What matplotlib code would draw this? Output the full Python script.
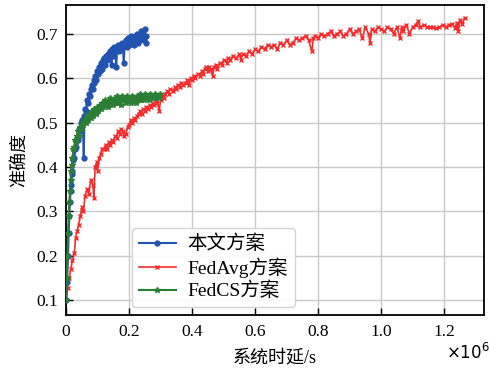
import numpy as np
import matplotlib.pyplot as plt
from matplotlib.ticker import FuncFormatter

plt.rcParams['font.family'] = ['Liberation Serif', 'Noto Sans CJK SC']
plt.rcParams['axes.unicode_minus'] = False

# system latency in units of 1e6 s, accuracy
ours_x = [0.000, 0.003, 0.006, 0.008, 0.010, 0.012, 0.014, 0.016, 0.018, 0.020,
          0.023, 0.026, 0.029, 0.032, 0.035, 0.038, 0.041, 0.044, 0.047, 0.050,
          0.053, 0.056, 0.058, 0.060, 0.063, 0.066, 0.069, 0.072, 0.075, 0.078,
          0.081, 0.084, 0.087, 0.090, 0.093, 0.096, 0.099, 0.102, 0.105, 0.108,
          0.111, 0.114, 0.117, 0.120, 0.123, 0.126, 0.129, 0.132, 0.135, 0.138,
          0.141, 0.144, 0.147, 0.150, 0.153, 0.156, 0.159, 0.162, 0.165, 0.168,
          0.171, 0.174, 0.177, 0.180, 0.183, 0.186, 0.189, 0.192, 0.195, 0.198,
          0.201, 0.204, 0.207, 0.210, 0.213, 0.216, 0.219, 0.222, 0.225, 0.228,
          0.231, 0.234, 0.237, 0.240, 0.243, 0.246, 0.249, 0.252, 0.255]
ours_y = [0.100, 0.140, 0.200, 0.250, 0.290, 0.320, 0.345, 0.360, 0.385, 0.390,
          0.415, 0.420, 0.440, 0.445, 0.465, 0.460, 0.485, 0.480, 0.500, 0.505,
          0.500, 0.420, 0.515, 0.530, 0.525, 0.550, 0.545, 0.565, 0.560, 0.575,
          0.585, 0.575, 0.595, 0.590, 0.605, 0.595, 0.615, 0.610, 0.625, 0.615,
          0.635, 0.620, 0.640, 0.645, 0.630, 0.650, 0.640, 0.655, 0.645, 0.660,
          0.650, 0.630, 0.665, 0.650, 0.670, 0.660, 0.625, 0.670, 0.675, 0.660,
          0.675, 0.665, 0.680, 0.670, 0.635, 0.680, 0.685, 0.670, 0.690, 0.675,
          0.690, 0.680, 0.695, 0.680, 0.690, 0.675, 0.695, 0.685, 0.700, 0.680,
          0.695, 0.685, 0.705, 0.690, 0.705, 0.685, 0.710, 0.680, 0.695]

fedcs_x = [0.000, 0.002, 0.004, 0.006, 0.008, 0.010, 0.012, 0.014, 0.016, 0.018,
           0.020, 0.023, 0.026, 0.029, 0.032, 0.035, 0.038, 0.041, 0.044, 0.047,
           0.050, 0.054, 0.058, 0.062, 0.066, 0.070, 0.074, 0.078, 0.082, 0.086,
           0.090, 0.094, 0.098, 0.102, 0.106, 0.110, 0.114, 0.118, 0.122, 0.126,
           0.130, 0.134, 0.138, 0.142, 0.146, 0.150, 0.154, 0.158, 0.162, 0.166,
           0.170, 0.174, 0.178, 0.182, 0.186, 0.190, 0.194, 0.198, 0.202, 0.206,
           0.210, 0.214, 0.218, 0.222, 0.226, 0.230, 0.234, 0.238, 0.242, 0.246,
           0.250, 0.254, 0.258, 0.262, 0.266, 0.270, 0.274, 0.278, 0.282, 0.286,
           0.290, 0.294, 0.298]
fedcs_y = [0.100, 0.150, 0.200, 0.250, 0.290, 0.320, 0.345, 0.370, 0.390, 0.405,
           0.420, 0.440, 0.445, 0.460, 0.455, 0.470, 0.480, 0.470, 0.490, 0.485,
           0.500, 0.495, 0.505, 0.500, 0.515, 0.505, 0.520, 0.510, 0.525, 0.515,
           0.530, 0.520, 0.535, 0.525, 0.540, 0.530, 0.545, 0.535, 0.550, 0.540,
           0.545, 0.535, 0.555, 0.545, 0.550, 0.540, 0.555, 0.545, 0.560, 0.545,
           0.555, 0.540, 0.560, 0.550, 0.555, 0.545, 0.560, 0.550, 0.555, 0.545,
           0.560, 0.550, 0.555, 0.545, 0.560, 0.550, 0.565, 0.550, 0.560, 0.550,
           0.565, 0.555, 0.560, 0.550, 0.565, 0.555, 0.560, 0.555, 0.565, 0.555,
           0.560, 0.555, 0.565]

fedavg_x = [0.000, 0.005, 0.010, 0.015, 0.020, 0.026, 0.030, 0.035, 0.040, 0.045,
            0.050, 0.055, 0.060, 0.067, 0.072, 0.078, 0.085, 0.088, 0.092, 0.097,
            0.100, 0.105, 0.110, 0.115, 0.120, 0.125, 0.130, 0.135, 0.140, 0.145,
            0.150, 0.155, 0.160, 0.165, 0.170, 0.175, 0.180, 0.185, 0.190, 0.195,
            0.200, 0.205, 0.210, 0.215, 0.220, 0.225, 0.230, 0.235, 0.240, 0.245,
            0.250, 0.255, 0.260, 0.265, 0.270, 0.275, 0.280, 0.285, 0.290, 0.295,
            0.300, 0.305, 0.310, 0.315, 0.320, 0.325, 0.330, 0.340, 0.345, 0.350,
            0.355, 0.360, 0.365, 0.370, 0.380, 0.385, 0.390, 0.395, 0.400, 0.405,
            0.410, 0.420, 0.425, 0.430, 0.435, 0.440, 0.445, 0.450, 0.455, 0.460,
            0.465, 0.470, 0.475, 0.480, 0.490, 0.495, 0.500, 0.510, 0.515, 0.520,
            0.530, 0.540, 0.550, 0.555, 0.560, 0.570, 0.580, 0.590, 0.600, 0.610,
            0.620, 0.630, 0.640, 0.650, 0.660, 0.670, 0.680, 0.690, 0.700, 0.710,
            0.720, 0.730, 0.740, 0.750, 0.760, 0.770, 0.780, 0.785, 0.790, 0.800,
            0.810, 0.820, 0.830, 0.840, 0.850, 0.860, 0.870, 0.880, 0.890, 0.900,
            0.910, 0.920, 0.930, 0.940, 0.950, 0.960, 0.965, 0.970, 0.980, 0.990,
            1.000, 1.010, 1.020, 1.030, 1.040, 1.050, 1.060, 1.065, 1.070, 1.080,
            1.090, 1.100, 1.110, 1.117, 1.125, 1.135, 1.145, 1.155, 1.165, 1.175,
            1.185, 1.195, 1.205, 1.215, 1.225, 1.235, 1.240, 1.245, 1.250, 1.258,
            1.265]
fedavg_y = [0.100, 0.128, 0.150, 0.170, 0.190, 0.205, 0.240, 0.255, 0.270, 0.290,
            0.310, 0.300, 0.335, 0.350, 0.340, 0.370, 0.360, 0.330, 0.400, 0.410,
            0.390, 0.420, 0.430, 0.440, 0.440, 0.450, 0.440, 0.455, 0.450, 0.460,
            0.455, 0.470, 0.465, 0.480, 0.475, 0.485, 0.480, 0.470, 0.475, 0.490,
            0.495, 0.505, 0.500, 0.510, 0.505, 0.515, 0.520, 0.525, 0.520, 0.530,
            0.525, 0.535, 0.530, 0.540, 0.535, 0.545, 0.540, 0.550, 0.545, 0.525,
            0.550, 0.560, 0.555, 0.565, 0.570, 0.565, 0.575, 0.570, 0.580, 0.575,
            0.585, 0.580, 0.590, 0.585, 0.590, 0.595, 0.585, 0.600, 0.595, 0.605,
            0.600, 0.610, 0.605, 0.615, 0.610, 0.620, 0.625, 0.615, 0.625, 0.620,
            0.605, 0.625, 0.630, 0.620, 0.635, 0.630, 0.640, 0.635, 0.645, 0.640,
            0.650, 0.645, 0.655, 0.640, 0.655, 0.650, 0.660, 0.655, 0.665, 0.660,
            0.670, 0.665, 0.675, 0.670, 0.675, 0.665, 0.680, 0.675, 0.685, 0.675,
            0.680, 0.690, 0.685, 0.690, 0.695, 0.685, 0.660, 0.690, 0.695, 0.690,
            0.700, 0.695, 0.700, 0.705, 0.695, 0.700, 0.705, 0.695, 0.700, 0.710,
            0.700, 0.705, 0.710, 0.690, 0.715, 0.700, 0.680, 0.710, 0.705, 0.715,
            0.710, 0.705, 0.715, 0.710, 0.700, 0.715, 0.690, 0.715, 0.705, 0.720,
            0.700, 0.715, 0.720, 0.728, 0.715, 0.720, 0.715, 0.715, 0.716, 0.712,
            0.715, 0.720, 0.715, 0.720, 0.722, 0.712, 0.725, 0.705, 0.730, 0.722,
            0.736]

x_ticks = [0, 0.2, 0.4, 0.6, 0.8, 1.0, 1.2]
y_ticks = [0.1, 0.2, 0.3, 0.4, 0.5, 0.6, 0.7]

fig = plt.figure(figsize=(4.9, 3.73), dpi=100)
ax = fig.add_axes([0.135, 0.155, 0.853, 0.832])

ax.plot(ours_x, ours_y, color='#2154b0', marker='o', markersize=3.5, lw=1.5, label='本文方案', zorder=3)
ax.plot(fedavg_x, fedavg_y, color='#f42c2c', marker='x', markersize=3, lw=1.2, label='FedAvg方案', zorder=2)
ax.plot(fedcs_x, fedcs_y, color='#2a7f34', marker='*', markersize=4, lw=1.5, label='FedCS方案', zorder=3)

ax.set_xlim(0, 1.327)
ax.set_ylim(0.066, 0.765)
ax.set_xticks(x_ticks)
ax.set_yticks(y_ticks)
ax.xaxis.set_major_formatter(FuncFormatter(lambda v, p: '0' if v == 0 else f'{v:.1f}'))
ax.tick_params(direction='in', length=5, width=1, labelsize=12.5, pad=6)
ax.grid(True, color='#c8c8c8', lw=1)
ax.set_axisbelow(True)
for s in ax.spines.values():
    s.set_linewidth(1.3)

ax.set_xlabel('系统时延/s', fontsize=13, labelpad=8)
ax.set_ylabel('准确度', fontsize=13, labelpad=6)
ax.text(1.013, -0.09, r'$\times10^{6}$', transform=ax.transAxes, fontsize=12,
        ha='right', va='top', family='DejaVu Serif')

ax.legend(loc='lower left', bbox_to_anchor=(0.158, 0.026), borderaxespad=0,
          fontsize=14, handlelength=1.9, borderpad=0.35, labelspacing=0.2,
          handletextpad=0.6, framealpha=0.9, edgecolor='#d0d0d0')

fig.savefig('out.png', dpi=100)
